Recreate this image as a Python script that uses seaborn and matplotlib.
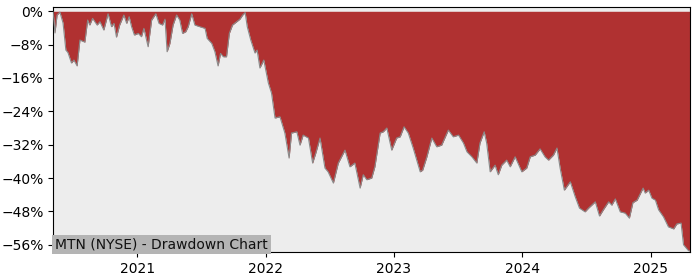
import matplotlib
matplotlib.use("Agg")
import matplotlib.pyplot as plt
import matplotlib.dates as mdates
import matplotlib.ticker as mticker
import pandas as pd
import seaborn as sns

dates = [
    "2020-05-07", "2020-05-12", "2020-05-18", "2020-05-26", "2020-06-04", "2020-06-12",
    "2020-06-18", "2020-06-28", "2020-07-05", "2020-07-14", "2020-07-22", "2020-08-05",
    "2020-08-13", "2020-08-19", "2020-08-27", "2020-09-09", "2020-09-17", "2020-09-28",
    "2020-10-10", "2020-10-20", "2020-10-27", "2020-11-03", "2020-11-12", "2020-11-24",
    "2020-12-02", "2020-12-09", "2020-12-16", "2020-12-24", "2021-01-04", "2021-01-13",
    "2021-01-20", "2021-02-01", "2021-02-11", "2021-02-23", "2021-03-04", "2021-03-14",
    "2021-03-21", "2021-03-27", "2021-04-04", "2021-04-13", "2021-04-23", "2021-05-02",
    "2021-05-10", "2021-05-19", "2021-05-26", "2021-06-05", "2021-06-14", "2021-06-28",
    "2021-07-13", "2021-07-19", "2021-08-01", "2021-08-10", "2021-08-19", "2021-08-26",
    "2021-09-03", "2021-09-12", "2021-09-20", "2021-09-29", "2021-10-11", "2021-10-20",
    "2021-10-28", "2021-11-04", "2021-11-10", "2021-11-20", "2021-12-02", "2021-12-08",
    "2021-12-16", "2021-12-27", "2022-01-09", "2022-01-18", "2022-01-28", "2022-02-11",
    "2022-02-25", "2022-03-09", "2022-03-16", "2022-03-31", "2022-04-09", "2022-04-18",
    "2022-05-03", "2022-05-15", "2022-05-24", "2022-06-05", "2022-06-19", "2022-06-28",
    "2022-07-13", "2022-07-27", "2022-08-15", "2022-08-29", "2022-09-12", "2022-09-27",
    "2022-10-06", "2022-10-16", "2022-10-30", "2022-11-08", "2022-11-23", "2022-12-02",
    "2022-12-12", "2022-12-26", "2023-01-09", "2023-01-19", "2023-01-30", "2023-02-11",
    "2023-02-25", "2023-03-17", "2023-03-24", "2023-04-05", "2023-04-19", "2023-05-03",
    "2023-05-17", "2023-06-05", "2023-06-19", "2023-07-04", "2023-07-18", "2023-07-28",
    "2023-08-11", "2023-08-25", "2023-09-03", "2023-09-15", "2023-09-22", "2023-10-02",
    "2023-10-16", "2023-10-25", "2023-11-04", "2023-11-18", "2023-11-28", "2023-12-12",
    "2023-12-31", "2024-01-14", "2024-01-24", "2024-02-07", "2024-02-21", "2024-03-06",
    "2024-03-16", "2024-03-30", "2024-04-09", "2024-04-18", "2024-04-30", "2024-05-17",
    "2024-05-31", "2024-06-12", "2024-06-28", "2024-07-08", "2024-07-17", "2024-07-27",
    "2024-08-08", "2024-08-19", "2024-09-03", "2024-09-12", "2024-09-22", "2024-10-06",
    "2024-10-20", "2024-11-01", "2024-11-11", "2024-11-23", "2024-12-10", "2024-12-16",
    "2024-12-26", "2025-01-04", "2025-01-14", "2025-01-23", "2025-02-06", "2025-02-20",
    "2025-03-07", "2025-03-16", "2025-03-28", "2025-04-04", "2025-04-18", "2025-04-23",
]

drawdown_pct = [
    -0.2, -5.2, -0.9, -0.2, -2.8, -9.3,
    -9.9, -12.4, -11.7, -13.1, -6.9, -7.4,
    -2.1, -3.3, -1.7, -3.3, -2.5, -4.5,
    -0.6, -3.7, -2.9, -6.2, -3.3, -0.9,
    -2.9, -1.3, -3.7, -5.7, -5.3, -6.1,
    -4.1, -8.5, -2.1, -0.6, -2.9, -3.3,
    -1.9, -9.7, -7.7, -3.3, -0.9, -2.1,
    -5.3, -4.9, -3.7, -0.6, -3.3, -3.7,
    -4.1, -6.5, -7.7, -9.7, -13.1, -10.1,
    -10.9, -10.9, -5.3, -3.3, -2.5, -1.9,
    -0.9, -0.3, -3.7, -6.9, -10.0, -9.3,
    -13.6, -11.7, -17.2, -19.6, -25.6, -25.3,
    -29.2, -35.2, -29.2, -28.9, -32.1, -29.7,
    -30.4, -36.4, -34.0, -30.4, -37.6, -38.5,
    -41.2, -36.4, -33.3, -37.3, -36.4, -42.4,
    -39.2, -40.4, -40.0, -37.3, -29.2, -28.9,
    -28.0, -33.3, -30.4, -30.1, -27.7, -29.2,
    -32.8, -38.5, -38.1, -34.9, -30.4, -32.5,
    -32.1, -28.5, -30.1, -29.7, -31.6, -33.7,
    -34.9, -36.4, -31.6, -28.9, -31.6, -38.5,
    -36.9, -39.2, -36.9, -35.7, -37.3, -34.9,
    -38.5, -37.6, -34.9, -34.5, -33.0, -34.9,
    -35.7, -34.5, -32.8, -37.6, -42.9, -40.9,
    -44.5, -47.2, -48.1, -47.2, -46.5, -45.7,
    -49.1, -47.6, -45.7, -46.5, -45.0, -48.1,
    -48.4, -49.6, -45.9, -45.3, -42.4, -43.6,
    -42.9, -44.8, -45.3, -47.6, -49.3, -51.7,
    -52.2, -51.0, -50.8, -56.0, -57.4, -57.5,
]

title_text = "MTN (NYSE) - Drawdown Chart"

df = pd.DataFrame({"date": pd.to_datetime(dates), "drawdown": drawdown_pct})

fig = plt.figure(figsize=(7, 2.8), dpi=100)
ax = fig.add_axes([0.076, 0.099, 0.910, 0.875])
ax.set_facecolor("#ededed")

ax.fill_between(df["date"], df["drawdown"], 0, color="#b03131", linewidth=0, zorder=2)
sns.lineplot(data=df, x="date", y="drawdown", ax=ax, color="#8a8a8a", linewidth=0.8, zorder=3)

ax.set_xlim(df["date"].iloc[0], df["date"].iloc[-1])
ax.set_ylim(-57.8, 0.96)
ax.yaxis.set_major_locator(mticker.MultipleLocator(8))
ax.yaxis.set_major_formatter(mticker.FuncFormatter(lambda v, p: f"{v:.0f}%".replace("-", "\u2212")))
ax.xaxis.set_major_locator(mdates.YearLocator())
ax.xaxis.set_major_formatter(mdates.DateFormatter("%Y"))
ax.set_xlabel("")
ax.set_ylabel("")
ax.tick_params(labelsize=10)

ax.text(0.003, 0.004, title_text, transform=ax.transAxes, ha="left", va="bottom",
        fontsize=10, color="#111111", zorder=5,
        bbox=dict(facecolor="#b4b4b4", edgecolor="none", pad=2.0))

fig.savefig("out.png", dpi=100)
